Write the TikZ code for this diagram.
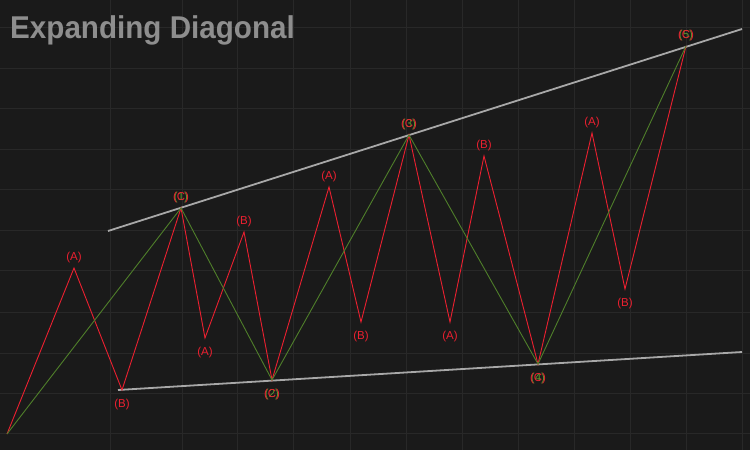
\documentclass[tikz,border=0pt]{standalone}
\usepackage{fontspec}
\setmainfont{Liberation Sans}
\definecolor{bg}{HTML}{1A1A1A}
\definecolor{gridc}{HTML}{282828}
\definecolor{wred}{HTML}{EC2030}
\definecolor{wgreen}{HTML}{4F7F2A}
\definecolor{lgreen}{HTML}{5E9A2E}
\definecolor{trend}{HTML}{A8A8A8}
\definecolor{titlec}{HTML}{8E8E8E}
\tikzset{
  gridline/.style={draw=gridc, line width=1pt},
  redwave/.style={draw=wred, line width=0.9pt, line join=miter},
  greenwave/.style={draw=wgreen, line width=0.9pt},
  trendline/.style={draw=trend, line width=1.8pt},
  lab/.style={font=\fontsize{11.5}{13}\selectfont, inner sep=0pt},
  labup/.style={lab, anchor=south, yshift=5pt},
  labdown/.style={lab, anchor=north, yshift=-9pt},
}
\begin{document}
\begin{tikzpicture}[x=1pt,y=-1pt]
\fill[bg] (0,0) rectangle (750,450);
\useasboundingbox (0,0) rectangle (750,450);
% grid
\foreach \gx in {110,182,237,293,350,406,462,518,574,630,686,742}
  \draw[gridline] (\gx,0) -- (\gx,450);
\foreach \gy in {27,68,108,149,189,230,270,312,353,393,433}
  \draw[gridline] (0,\gy) -- (750,\gy);
% title
\node[anchor=base west, inner sep=0pt, text=titlec,
      font=\bfseries\fontsize{31.5}{34}\selectfont] (title) at (10,38.5)
      {\scalebox{0.94}[1]{Expanding Diagonal}};
% wave points
\coordinate (S)  at (7,434);
\coordinate (A1) at (74,268);
\coordinate (B1) at (122,390);
\coordinate (P1) at (181,208);
\coordinate (A2) at (205,338);
\coordinate (B2) at (244,232);
\coordinate (P2) at (272,380);
\coordinate (A3) at (329,187);
\coordinate (B3) at (361,322);
\coordinate (P3) at (409,135);
\coordinate (A4) at (450,322);
\coordinate (B4) at (484,156);
\coordinate (P4) at (538,364);
\coordinate (A5) at (592,133);
\coordinate (B5) at (625,289);
\coordinate (P5) at (686,46);
% trend lines
\coordinate (U0) at (108,231);
\coordinate (U1) at (742,29);
\coordinate (L0) at (118,390);
\coordinate (L1) at (742,352);
\draw[trendline] (U0) -- (U1);
\draw[trendline] (L0) -- (L1);
% waves
\draw[redwave] (S) -- (A1) -- (B1) -- (P1) -- (A2) -- (B2) -- (P2) -- (A3) -- (B3) -- (P3)
  -- (A4) -- (B4) -- (P4) -- (A5) -- (B5) -- (P5);
\draw[greenwave] (S) -- (P1) -- (P2) -- (P3) -- (P4) -- (P5);
% labels
\node[labup, text=wred] (lA1) at (A1) {(A)};
\node[labdown, text=wred] (lB1) at (B1) {(B)};
\node[labup, text=lgreen] (l1g) at (P1) {(1)};
\node[labup, text=wred] (l1r) at (P1) {(C)};
\node[labdown, text=wred] (lA2) at (A2) {(A)};
\node[labup, text=wred] (lB2) at (B2) {(B)};
\node[labdown, text=lgreen] (l2g) at (P2) {(2)};
\node[labdown, text=wred] (l2r) at (P2) {(C)};
\node[labup, text=wred] (lA3) at (A3) {(A)};
\node[labdown, text=wred] (lB3) at (B3) {(B)};
\node[labup, text=lgreen] (l3g) at (P3) {(3)};
\node[labup, text=wred] (l3r) at (P3) {(C)};
\node[labdown, text=wred] (lA4) at (A4) {(A)};
\node[labup, text=wred] (lB4) at (B4) {(B)};
\node[labdown, text=lgreen] (l4g) at (P4) {(4)};
\node[labdown, text=wred] (l4r) at (P4) {(C)};
\node[labup, text=wred] (lA5) at (A5) {(A)};
\node[labdown, text=wred] (lB5) at (B5) {(B)};
\node[labup, text=lgreen] (l5g) at (P5) {(5)};
\node[labup, text=wred] (l5r) at (P5) {(C)};
\end{tikzpicture}
\end{document}
